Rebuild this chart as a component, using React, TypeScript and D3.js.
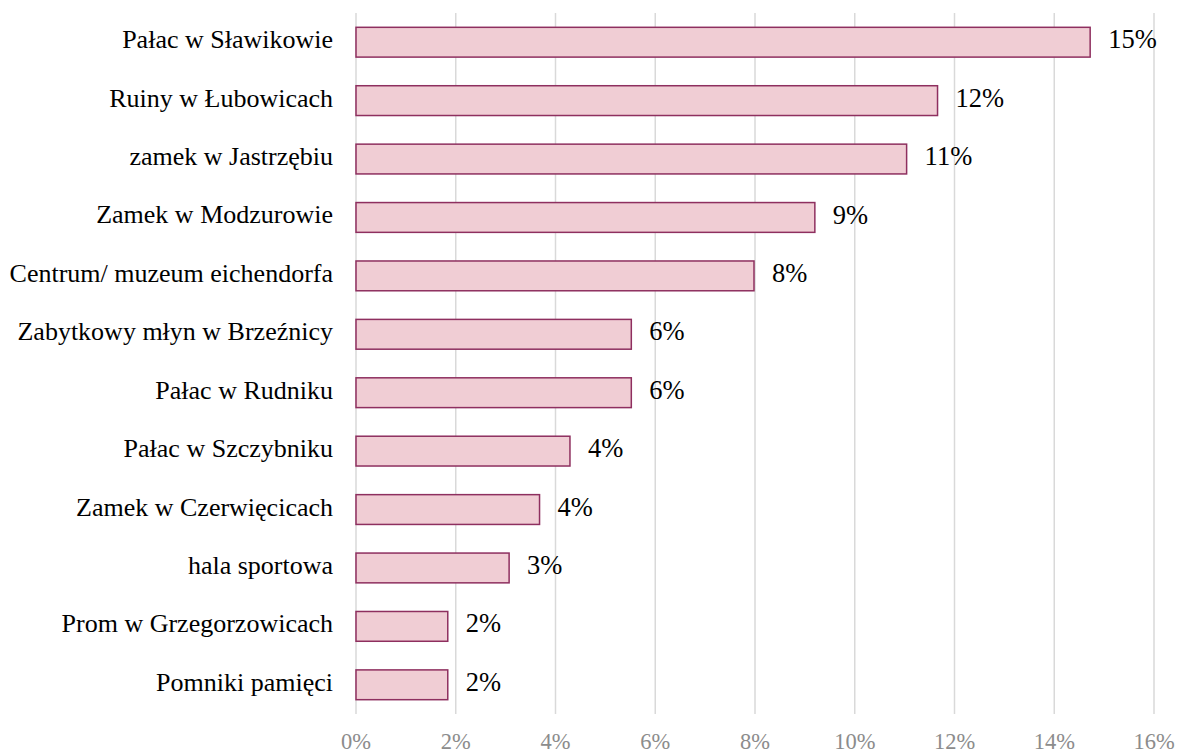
import React from "react";
import * as d3 from "d3";

const categories = [
  "Pałac w Sławikowie",
  "Ruiny w Łubowicach",
  "zamek w Jastrzębiu",
  "Zamek w Modzurowie",
  "Centrum/ muzeum eichendorfa",
  "Zabytkowy młyn w Brzeźnicy",
  "Pałac w Rudniku",
  "Pałac w Szczybniku",
  "Zamek w Czerwięcicach",
  "hala sportowa",
  "Prom w Grzegorzowicach",
  "Pomniki pamięci",
];
const values = [14.72, 11.66, 11.04, 9.2, 7.98, 5.52, 5.52, 4.29, 3.68, 3.07, 1.84, 1.84];
const ticks = [0, 2, 4, 6, 8, 10, 12, 14, 16];

const W = 1178;
const H = 753;
const margin = { left: 356, right: 24, top: 13, bottom: 39 };
const FONT = "'Liberation Serif', 'Times New Roman', serif";

export default function App() {
  const x = d3.scaleLinear().domain([0, 16]).range([margin.left, 1154]);
  const y = d3
    .scaleBand<string>()
    .domain(categories)
    .range([margin.top, H - margin.bottom])
    .paddingInner(0.49)
    .paddingOuter(0.245);

  return (
    <svg
      width={W}
      height={H}
      style={{ position: "absolute", left: 0, top: 0, background: "#fff" }}
    >
      {ticks.map((t) => (
        <line
          key={"g" + t}
          x1={x(t)}
          x2={x(t)}
          y1={margin.top}
          y2={H - margin.bottom}
          stroke="#d9d9d9"
          strokeWidth={1.5}
        />
      ))}
      {ticks.map((t) => (
        <text
          key={"t" + t}
          x={x(t)}
          y={744}
          textAnchor="middle"
          dominantBaseline="middle"
          fontFamily={FONT}
          fontSize={22.5}
          fill="#8c8c8c"
        >
          {t}%
        </text>
      ))}
      {categories.map((c, i) => {
        const yy = y(c)!;
        const bw = y.bandwidth();
        return (
          <g key={c}>
            <rect
              x={x(0)}
              y={yy}
              width={x(values[i]) - x(0)}
              height={bw}
              fill="#f0cdd4"
              stroke="#8e2f5f"
              strokeWidth={1.5}
            />
            <text
              x={333}
              y={yy + bw / 2}
              textAnchor="end"
              dominantBaseline="middle"
              fontFamily={FONT}
              fontSize={26}
              fill="#000"
            >
              {c}
            </text>
            <text
              x={x(values[i]) + 18}
              y={yy + bw / 2}
              textAnchor="start"
              dominantBaseline="middle"
              fontFamily={FONT}
              fontSize={26.5}
              fill="#000"
            >
              {Math.round(values[i])}%
            </text>
          </g>
        );
      })}
    </svg>
  );
}
